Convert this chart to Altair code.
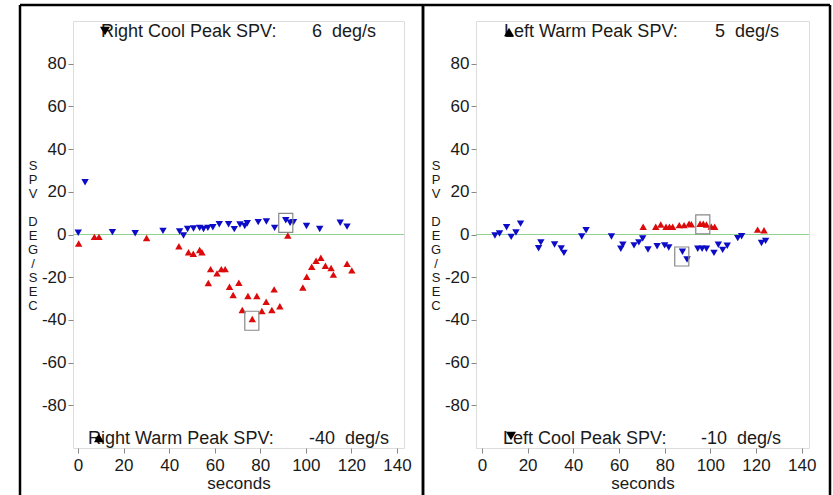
import altair as alt
import pandas as pd

FONT = "Liberation Sans"
NB = "\u00a0"

# ---------------- data ----------------
# Left panel: right ear
rc_t = [0.1, 3.1, 15.1, 25.1, 37.3, 44.6, 46.3, 48.1, 50.7, 53.4, 55.1, 57.0, 59.2, 62.0, 66.1,
        68.6, 71.1, 73.2, 74.3, 79.1, 82.7, 86.3, 91.2, 93.1, 94.6, 100.3, 106.1, 115.1, 118.1]
rc_v = [0.8, 24.5, 1.1, 0.6, 1.7, 1.4, -0.5, 2.6, 2.8, 3.1, 2.6, 3.1, 3.4, 4.8, 4.8,
        2.5, 4.7, 4.0, 5.3, 5.8, 6.1, 3.1, 6.7, 5.5, 5.8, 4.0, 2.6, 5.5, 3.7]
rw_t = [0.3, 7.2, 9.2, 30.1, 44.3, 48.5, 50.6, 53.4, 54.4, 57.2, 58.2, 61.0, 62.9, 64.6, 66.5,
        68.1, 70.6, 72.1, 74.6, 76.5, 78.5, 80.7, 82.6, 85.1, 86.1, 88.6, 92.1, 98.7, 100.4,
        102.6, 104.5, 106.6, 108.6, 111.1, 112.1, 118.1, 120.2]
rw_v = [-4.2, -1.1, -1.1, -1.6, -5.5, -8.3, -9.0, -7.3, -8.3, -22.7, -16.2, -18.2, -16.2, -16.2, -24.5,
        -28.3, -22.6, -35.4, -28.8, -39.6, -28.8, -35.8, -31.5, -35.4, -25.7, -33.6, -0.5, -24.8, -19.8,
        -15.1, -12.3, -10.9, -14.6, -15.7, -18.8, -13.7, -16.8]
r_box_t = [91.2, 76.3]
r_box_v = [5.4, -40.4]

# Right panel: left ear
lc_t = [5.7, 7.7, 10.8, 12.8, 14.9, 16.9, 24.8, 25.8, 31.8, 34.7, 35.9, 43.7, 45.6, 56.7, 60.8,
        61.7, 66.6, 68.7, 70.4, 72.7, 76.7, 80.0, 81.8, 87.8, 89.8, 94.5, 96.4, 98.3, 101.6,
        103.5, 105.4, 107.4, 112.0, 113.7, 122.4, 124.2]
lc_v = [-0.5, 0.5, 3.4, -1.1, 0.9, 5.1, -6.4, -3.7, -4.7, -6.5, -8.6, -0.9, 2.0, -0.9, -6.7,
        -4.8, -5.1, -3.7, -1.9, -7.0, -5.5, -5.1, -6.1, -8.1, -11.7, -6.7, -6.7, -6.7, -8.6,
        -4.8, -7.2, -5.3, -1.7, -0.8, -4.0, -3.0]
lw_t = [70.6, 76.1, 78.3, 80.6, 82.1, 83.5, 86.4, 88.5, 90.7, 91.7, 95.5, 96.9, 98.3, 100.4,
        101.9, 120.7, 123.5]
lw_v = [3.6, 3.6, 4.7, 3.6, 3.6, 3.6, 4.4, 4.4, 5.1, 4.8, 5.0, 5.0, 4.7, 3.7, 3.6, 2.3, 2.0]
l_box_t = [96.7, 87.5]
l_box_v = [4.7, -10.3]

x_ticks = [0, 20, 40, 60, 80, 100, 120, 140]
y_ticks = [-80, -60, -40, -20, 0, 20, 40, 60, 80]
y_title_a = ["S", "P", "V"]
y_title_b = ["D", "E", "G", "/", "S", "E", "C"]

BLUE = "#0c0cc8"
RED = "#dc0a0a"
GREEN = "#92d392"
BOX_SHAPE = "M-0.74,-1L0.74,-1L0.74,1L-0.74,1Z"


def panel(cool_t, cool_v, warm_t, warm_v, box_t, box_v, width, xdom,
          top_label, top_value, top_shape, top_mark, top_lx, top_rx,
          bot_label, bot_value, bot_shape, bot_mark, bot_lx, bot_rx, right_edge):
    height = 427
    xenc = alt.X("t:Q", scale=alt.Scale(domain=xdom, nice=False, zero=False),
                 axis=alt.Axis(values=x_ticks, title="seconds", grid=False, domain=False,
                               tickColor="#888", tickSize=5, labelFontSize=17, labelColor="#1a1a1a",
                               labelFont=FONT, titleFont=FONT, titleFontSize=17,
                               titleFontWeight="normal", titleColor="#1a1a1a", labelPadding=4,
                               titlePadding=2, labelFlush=False, labelOverlap=False,
                               labelExpr="'' + datum.value"))
    yenc = alt.Y("v:Q", scale=alt.Scale(domain=[-100, 100], nice=False, zero=False),
                 axis=alt.Axis(values=y_ticks, title=None, grid=False, domain=False,
                               tickColor="#888", tickSize=5, labelFontSize=17, labelColor="#1a1a1a",
                               labelFont=FONT, labelPadding=2, labelOverlap=False,
                               labelExpr="'' + datum.value"))
    cool = pd.DataFrame({"t": cool_t, "v": cool_v})
    warm = pd.DataFrame({"t": warm_t, "v": warm_v})
    boxes = pd.DataFrame({"t": box_t, "v": box_v})
    one = pd.DataFrame({"v": [0]})

    zero = alt.Chart(one).mark_rule(color=GREEN, strokeWidth=1).encode(y=yenc)
    pc = alt.Chart(cool).mark_point(shape="triangle-down", filled=True, size=55,
                                    color=BLUE, opacity=1).encode(x=xenc, y=yenc)
    pw = alt.Chart(warm).mark_point(shape="triangle-up", filled=True, size=55,
                                    color=RED, opacity=1).encode(x=xenc, y=yenc)
    bx = alt.Chart(boxes).mark_point(shape=BOX_SHAPE, filled=False, size=361,
                                     color="#888", strokeWidth=1.2, opacity=1).encode(x=xenc, y=yenc)

    def txt(s, x, y, align):
        return alt.Chart(one).mark_text(text=s, align=align, baseline="middle", fontSize=18,
                                        font=FONT, color="#1a1a1a").encode(x=alt.value(x), y=alt.value(y))

    def sym(shape, x, y):
        return alt.Chart(one).mark_point(shape=shape, filled=True, size=100, color="black",
                                         opacity=1).encode(x=alt.value(x), y=alt.value(y))

    def vtitle(lines, ytop):
        return alt.Chart(one).mark_text(text=lines, align="center", baseline="top", fontSize=13,
                                        lineHeight=14, font=FONT, color="#1a1a1a").encode(
            x=alt.value(-40), y=alt.value(ytop))

    def vrule(x):
        return alt.Chart(one).mark_rule(color="black", strokeWidth=2.5).encode(
            x=alt.value(x), y=alt.value(-16), y2=alt.value(474))

    hrule = alt.Chart(one).mark_rule(color="black", strokeWidth=2.5).encode(
        x=alt.value(-53), x2=alt.value(right_edge), y=alt.value(-16))

    layers = [zero, pc, pw, bx,
              txt(top_label, top_lx, 11, "left"), txt(top_value, top_rx, 11, "right"),
              txt(bot_label, bot_lx, 418, "left"), txt(bot_value, bot_rx, 418, "right"),
              sym(top_shape, top_mark[0], top_mark[1]), sym(bot_shape, bot_mark[0], bot_mark[1]),
              vtitle(y_title_a, 139), vtitle(y_title_b, 195),
              vrule(-53), vrule(right_edge), hrule]
    return alt.layer(*layers).properties(width=width, height=height)


left = panel(rc_t, rc_v, rw_t, rw_v, r_box_t, r_box_v, 331, [-2.2, 143.1],
             "Right Cool Peak SPV:", "6" + NB + NB + "deg/s", "triangle-down", (32, 10), 28, 303,
             "Right Warm Peak SPV:", "-40" + NB + NB + "deg/s", "triangle-up", (26, 417), 15, 316, 350)
right = panel(lc_t, lc_v, lw_t, lw_v, l_box_t, l_box_v, 333, [-2.6, 143.2],
              "Left Warm Peak SPV:", "5" + NB + NB + "deg/s", "triangle-up", (33, 11), 28, 303,
              "Left Cool Peak SPV:", "-10" + NB + NB + "deg/s", "triangle-down", (35, 415), 27, 305, 354)

chart = alt.hconcat(left, right, spacing=72, bounds="flush").properties(
    padding={"left": 18, "top": 3, "right": 0, "bottom": 0}
).configure_view(stroke="#999", strokeWidth=1).configure(background="white")

chart.save("out.html", embed_options={"renderer": "svg", "actions": False})
